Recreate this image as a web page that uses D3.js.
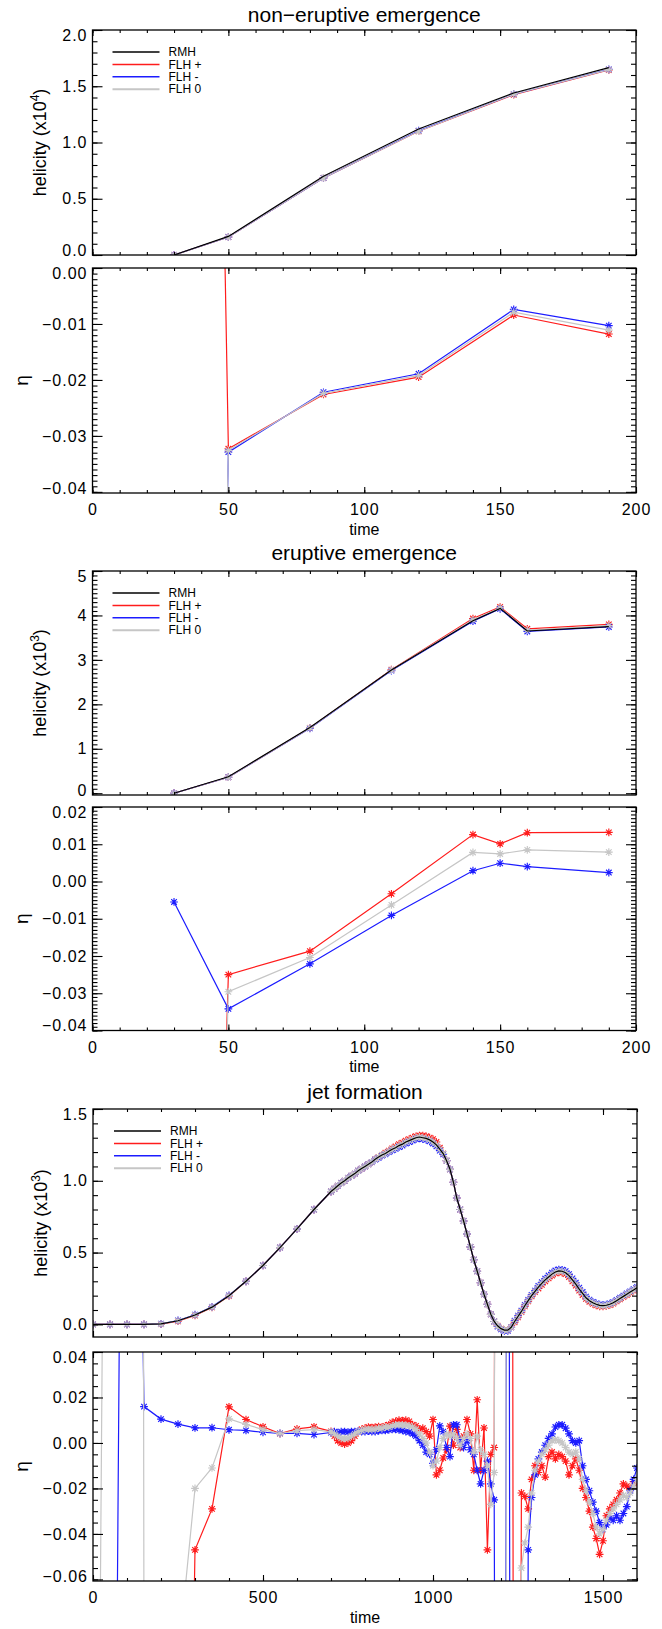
<!DOCTYPE html>
<html><head><meta charset="utf-8">
<script src="https://cdn.jsdelivr.net/npm/d3@7"></script>
<style>
body{margin:0;background:#fff}
text{font-family:"Liberation Sans",Arial,Helvetica,sans-serif;fill:#000}
</style>
</head><body>
<svg id="c" width="662" height="1629"></svg>
<script>
// ---------------- DATA ----------------
const legendNames = ["RMH", "FLH +", "FLH -", "FLH 0"];

// non-eruptive emergence
const neTime = [30, 50, 85, 120, 155, 190];
const neHelRMH   = [0, 0.165, 0.70, 1.12, 1.44, 1.665];
const neHelPlus  = [0, 0.16, 0.685, 1.10, 1.425, 1.645];
const neHelMinus = [0, 0.16, 0.685, 1.105, 1.43, 1.65];
const neHelZero  = [0, 0.16, 0.685, 1.10, 1.43, 1.648];
const neEtaPlus  = [0.5, -0.0323, -0.0226, -0.0195, -0.0084, -0.0118];
const neEtaMinus = [-0.5, -0.0329, -0.0222, -0.0189, -0.0074, -0.0103];
const neEtaZero  = [-0.5, -0.0326, -0.0224, -0.0192, -0.0079, -0.0111];

// eruptive emergence
const erTime = [30, 50, 80, 110, 140, 150, 160, 190];
const erHelRMH   = [0, 0.37, 1.48, 2.77, 3.88, 4.16, 3.65, 3.75];
const erHelPlus  = [0, 0.36, 1.47, 2.78, 3.93, 4.19, 3.70, 3.80];
const erHelMinus = [0, 0.36, 1.46, 2.76, 3.87, 4.15, 3.64, 3.74];
const erHelZero  = [0, 0.36, 1.47, 2.77, 3.90, 4.17, 3.67, 3.77];
const erEtaPlus  = [-0.5, -0.025, -0.0187, -0.0033, 0.0126, 0.0101, 0.0131, 0.0132];
const erEtaMinus = [-0.0055, -0.0342, -0.0221, -0.0091, 0.0029, 0.0049, 0.0040, 0.0024];
const erEtaZero  = [-0.5, -0.0296, -0.0204, -0.0063, 0.0078, 0.0074, 0.0085, 0.0079];

// jet formation
const jetTime = [0,50,100,150,200,250,300,350,400,450,500,550,600,650,700,
 710,720,730,740,750,760,770,780,790,800,
 810,820,830,840,850,860,870,880,890,900,
 910,920,930,940,950,960,970,980,990,1000,
 1010,1020,1030,1040,1050,1060,1070,1080,1090,1100,
 1110,1120,1130,1140,1150,1160,1170,1180,1190,1200,
 1210,1220,1230,1240,1250,1260,1270,1280,1290,1300,
 1310,1320,1330,1340,1350,1360,1370,1380,1390,1400,
 1410,1420,1430,1440,1450,1460,1470,1480,1490,1500,
 1510,1520,1530,1540,1550,1560,1570,1580,1590,1600];

const jetHelRMH = [0,0,0,0,0.003,0.025,0.065,0.12,0.2,0.3,0.41,0.535,0.665,0.8,0.925,
 0.945,0.965,0.985,1.0,1.02,1.035,1.05,1.07,1.085,1.1,
 1.115,1.13,1.15,1.165,1.18,1.19,1.205,1.22,1.23,1.245,
 1.255,1.27,1.28,1.29,1.3,1.305,1.3,1.295,1.285,1.27,
 1.25,1.22,1.19,1.14,1.08,0.99,0.88,0.8,0.72,0.63,
 0.54,0.45,0.37,0.29,0.21,0.14,0.07,0.02,-0.01,-0.03,
 -0.04,-0.04,-0.02,0.02,0.055,0.09,0.13,0.165,0.2,0.23,
 0.26,0.285,0.31,0.33,0.35,0.365,0.372,0.37,0.36,0.34,
 0.31,0.28,0.245,0.215,0.185,0.165,0.15,0.14,0.132,0.13,
 0.133,0.14,0.15,0.165,0.18,0.195,0.21,0.225,0.24,0.255];
const jetHelPlus = [0,0,0,0,0.002,0.022,0.062,0.118,0.198,0.3,0.41,0.535,0.665,0.8,0.925,
 0.945,0.965,0.985,1.0,1.02,1.035,1.05,1.07,1.085,1.1,
 1.115,1.13,1.15,1.165,1.18,1.195,1.21,1.225,1.24,1.255,
 1.265,1.28,1.29,1.3,1.31,1.315,1.315,1.31,1.3,1.29,
 1.27,1.23,1.19,1.14,1.08,0.99,0.88,0.8,0.72,0.63,
 0.54,0.45,0.37,0.29,0.21,0.14,0.07,0.02,-0.01,-0.03,
 -0.04,-0.04,-0.02,0.015,0.05,0.085,0.125,0.16,0.195,0.225,
 0.25,0.275,0.3,0.32,0.34,0.355,0.362,0.36,0.35,0.33,
 0.3,0.27,0.235,0.205,0.178,0.158,0.143,0.133,0.126,0.125,
 0.128,0.135,0.145,0.16,0.175,0.19,0.205,0.22,0.235,0.25];
const jetHelMinus = [0,0,0,0,0.004,0.027,0.067,0.122,0.202,0.3,0.41,0.535,0.665,0.8,0.925,
 0.945,0.965,0.985,1.0,1.02,1.035,1.05,1.07,1.085,1.1,
 1.115,1.13,1.148,1.16,1.175,1.185,1.2,1.212,1.222,1.235,
 1.245,1.26,1.27,1.28,1.29,1.295,1.29,1.285,1.275,1.26,
 1.24,1.21,1.185,1.14,1.08,0.99,0.88,0.8,0.72,0.63,
 0.54,0.45,0.37,0.29,0.21,0.14,0.07,0.02,-0.015,-0.035,
 -0.045,-0.045,-0.02,0.025,0.06,0.095,0.135,0.17,0.205,0.235,
 0.268,0.293,0.318,0.34,0.36,0.375,0.382,0.38,0.37,0.35,
 0.32,0.29,0.255,0.225,0.193,0.172,0.156,0.146,0.138,0.136,
 0.138,0.145,0.155,0.17,0.185,0.2,0.215,0.23,0.245,0.26];
const jetHelZero = jetHelRMH; // indistinguishable from RMH in the figure

const jetEtaPlus = [-0.5,-0.5,-0.5,-0.5,-0.5,-0.5,-0.047,-0.029,0.0159,0.0103,0.0071,0.0041,0.0062,0.0071,0.0051,
 0.003,0.001,0.0,-0.0005,0.0,0.001,0.003,0.005,0.006,0.0065,
 0.007,0.0068,0.007,0.0072,0.007,0.0075,0.008,0.009,0.0095,0.01,
 0.0098,0.01,0.0095,0.008,0.0075,0.006,0.0065,0.005,0.003,0.0103,
 -0.014,-0.012,-0.0066,-0.003,0.0074,-0.001,0.006,-0.002,0.003,0.0103,
 0.004,-0.012,0.019,-0.012,0.0066,-0.047,-0.005,-0.002,0.5,0.5,
 0.5,0.5,0.5,-0.5,-0.5,-0.022,-0.0235,-0.029,-0.016,-0.01,
 -0.013,-0.01,-0.015,-0.006,-0.004,-0.007,-0.005,-0.006,-0.008,-0.014,
 -0.01,-0.007,-0.012,-0.02,-0.024,-0.03,-0.037,-0.042,-0.049,-0.043,
 -0.032,-0.029,-0.027,-0.025,-0.022,-0.018,-0.019,-0.02,-0.017,-0.018];
const jetEtaMinus = [-0.5,-0.5,0.5,0.016,0.0105,0.0083,0.0066,0.0067,0.0058,0.0055,0.0047,0.0042,0.0042,0.0037,0.0046,
 0.005,0.0045,0.005,0.005,0.0048,0.005,0.005,0.0052,0.005,0.005,
 0.0052,0.005,0.005,0.0053,0.0055,0.0055,0.0058,0.006,0.006,0.0058,
 0.0055,0.005,0.0048,0.004,0.003,0.001,-0.001,-0.004,-0.005,-0.009,
 -0.003,0.0075,0.005,-0.002,-0.006,0.008,0.008,0.001,-0.002,0.001,
 -0.003,-0.005,-0.012,-0.018,-0.012,-0.008,-0.018,-0.025,-0.5,-0.5,
 -0.5,0.5,-0.5,-0.5,-0.5,-0.5,-0.5,-0.047,-0.024,-0.014,
 -0.007,-0.004,-0.001,0.002,0.004,0.007,0.008,0.008,0.0065,0.004,
 0.001,0.0,0.001,-0.01,-0.016,-0.021,-0.026,-0.03,-0.035,-0.038,
 -0.036,-0.033,-0.034,-0.032,-0.034,-0.031,-0.028,-0.021,-0.016,-0.011];
const jetEtaZero = [-0.5,0.5,5,-0.1,-0.2,-0.096,-0.02,-0.011,0.0106,0.0081,0.0059,0.0041,0.0054,0.0059,0.0049,
 0.004,0.003,0.002,0.002,0.002,0.003,0.004,0.005,0.0055,0.006,
 0.006,0.006,0.006,0.0065,0.0065,0.007,0.007,0.0075,0.008,0.008,
 0.008,0.0078,0.0075,0.007,0.006,0.004,0.002,0.0,-0.004,-0.01,
 -0.008,-0.002,0.002,0.004,0.003,0.004,0.002,-0.001,0.002,0.004,
 0.002,-0.004,0.003,-0.003,-0.005,-0.01,-0.027,-0.013,0.5,0.5,
 0.5,-0.5,-0.5,-0.5,-0.5,-0.055,-0.044,-0.037,-0.022,-0.012,
 -0.008,-0.005,-0.003,-0.001,0.001,0.0015,0.001,0.0,-0.002,-0.004,
 -0.005,-0.004,-0.007,-0.016,-0.021,-0.026,-0.031,-0.037,-0.04,-0.038,
 -0.034,-0.031,-0.029,-0.027,-0.025,-0.023,-0.024,-0.022,-0.019,-0.016];

// tick labels
const timeTicksShort = [0, 50, 100, 150, 200];
const timeTicksJet = [0, 500, 1000, 1500];
const neHelTicks = [0.0, 0.5, 1.0, 1.5, 2.0];
const neEtaTicks = [-0.04, -0.03, -0.02, -0.01, 0.00];
const erHelTicks = [0, 1, 2, 3, 4, 5];
const erEtaTicks = [-0.04, -0.03, -0.02, -0.01, 0.00, 0.01, 0.02];
const jetHelTicks = [0.0, 0.5, 1.0, 1.5];
const jetEtaTicks = [-0.06, -0.04, -0.02, 0.00, 0.02, 0.04];

const titles = ["non\u2212eruptive emergence", "eruptive emergence", "jet formation"];

// ---------------- DRAWING ----------------
const COL = {rmh:"#000000", plus:"#ff1c1c", minus:"#1c1cff", zero:"#c6c6c6"};
const svg = d3.select("#c");
const defs = svg.append("defs");
const FONT = '"Liberation Sans",Arial,sans-serif';

const asterisk = {draw(ctx, size){
  const r = Math.sqrt(size)/2, a = r*0.72;
  ctx.moveTo(-r,0); ctx.lineTo(r,0);
  ctx.moveTo(0,-r); ctx.lineTo(0,r);
  ctx.moveTo(-a,-a); ctx.lineTo(a,a);
  ctx.moveTo(-a,a); ctx.lineTo(a,-a);
}};
const symPath = d3.symbol().type(asterisk).size(60)();

function minorVals(dom, step){
  const lo = Math.ceil(dom[0]/step - 1e-9), hi = Math.floor(dom[1]/step + 1e-9);
  return d3.range(lo, hi+1).map(k => +(k*step).toFixed(6));
}

let clipN = 0;
function panel(cfg){
  const x = d3.scaleLinear().domain(cfg.xDomain).range([cfg.x0, cfg.x1]);
  const y = d3.scaleLinear().domain(cfg.yDomain).range([cfg.bottom, cfg.top]);
  const g = svg.append("g");
  const h = cfg.bottom - cfg.top, w = cfg.x1 - cfg.x0;
  const yMaj = 10, yMin = 5, xMaj = 6, xMin = 3;

  const cid = "clip" + (clipN++);
  defs.append("clipPath").attr("id", cid).append("rect")
    .attr("x", cfg.x0).attr("y", cfg.top).attr("width", w).attr("height", h);
  const dg = g.append("g").attr("clip-path", `url(#${cid})`);
  const line = d3.line().x(d => x(d[0])).y(d => y(d[1]));
  cfg.series.forEach(s => {
    const pts = cfg.time.map((t,i) => [t, s.values[i]]);
    dg.append("path").attr("d", line(pts)).attr("fill","none")
      .attr("stroke", s.color).attr("stroke-width", s.width || 1.2);
    if (s.markers) {
      dg.selectAll(null).data(pts).enter().append("path")
        .attr("d", symPath)
        .attr("transform", d => `translate(${x(d[0])},${y(d[1])})`)
        .attr("fill","none").attr("stroke", s.color).attr("stroke-width", 1.15);
    }
  });

  const ax = g.append("g").attr("class","axes");
  const fmt = d3.format(cfg.yFmt);
  function addAxis(gen, tx, ty, vals, len, labels){
    const a = gen.tickValues(vals).tickSizeInner(-len).tickSizeOuter(0).tickPadding(5)
      .tickFormat(labels ? labels : () => "");
    const gg = ax.append("g").attr("transform", `translate(${tx},${ty})`).call(a);
    gg.select(".domain").remove();
    gg.selectAll("line").attr("stroke","#000").attr("stroke-width",1.1);
    gg.selectAll("text").attr("font-size", 16).attr("fill","#000")
      .attr("letter-spacing", 1).style("font-family", FONT);
    return gg;
  }
  const yMinors = minorVals(cfg.yDomain, cfg.yMinor);
  const xMinors = minorVals(cfg.xDomain, cfg.xMinor);
  addAxis(d3.axisLeft(y), cfg.x0, 0, yMinors, yMin, null);
  addAxis(d3.axisRight(y), cfg.x1, 0, yMinors, yMin, null);
  const yl = addAxis(d3.axisLeft(y), cfg.x0, 0, cfg.yTicks, yMaj, fmt);
  // keep edge labels inside the frame, as in the original
  yl.selectAll(".tick").each(function(v){
    const ty = y(v);
    const shift = Math.min(Math.max(ty, cfg.top + 5), cfg.bottom - 5) - ty;
    d3.select(this).select("text").attr("y", shift);
  });
  addAxis(d3.axisRight(y), cfg.x1, 0, cfg.yTicks, yMaj, null);
  addAxis(d3.axisBottom(x), 0, cfg.bottom, xMinors, xMin, null);
  addAxis(d3.axisTop(x), 0, cfg.top, xMinors, xMin, null);
  const xb = addAxis(d3.axisBottom(x), 0, cfg.bottom, cfg.xTicks, xMaj, cfg.xLabels ? d3.format("d") : null);
  xb.selectAll("text").attr("y", 11);
  addAxis(d3.axisTop(x), 0, cfg.top, cfg.xTicks, xMaj, null);

  g.append("rect").attr("x", cfg.x0).attr("y", cfg.top).attr("width", w).attr("height", h)
    .attr("fill","none").attr("stroke","#000").attr("stroke-width",1.3);

  const lab = g.append("text")
    .attr("transform", `translate(${cfg.yLabelX},${(cfg.top+cfg.bottom)/2}) rotate(-90)`)
    .attr("text-anchor","middle").attr("dy","0.35em");
  if (cfg.yLabel === "eta") {
    lab.attr("font-size", 19).text("\u03b7");
  } else {
    lab.attr("font-size", 18);
    lab.append("tspan").text("helicity (x10");
    lab.append("tspan").attr("dy", -7).attr("font-size", 12).text(cfg.yLabel);
    lab.append("tspan").attr("dy", 7).text(")");
  }
  if (cfg.xLabels) {
    g.append("text").attr("x", (cfg.x0+cfg.x1)/2).attr("y", cfg.bottom + 36)
      .attr("text-anchor","middle").attr("dy","0.35em").attr("font-size", 16).text("time");
  }
  if (cfg.legend) {
    const cols = [COL.rmh, COL.plus, COL.minus, COL.zero];
    legendNames.forEach((n,i) => {
      const yy = cfg.top + 22 + i*12.4;
      g.append("line").attr("x1", cfg.x0+cfg.legendDx).attr("x2", cfg.x0+cfg.legendDx+47)
        .attr("y1", yy).attr("y2", yy).attr("stroke", cols[i]).attr("stroke-width", i===3 ? 2 : 1.5);
      g.append("text").attr("x", cfg.x0+cfg.legendDx+56).attr("y", yy).attr("dy","0.35em")
        .attr("font-size", 12).text(n);
    });
  }
}

function helSeries(rmh, plus, minus, zero){
  return [
    {values: plus, color: COL.plus, markers: true},
    {values: minus, color: COL.minus, markers: true},
    {values: zero, color: COL.zero, markers: true},
    {values: rmh, color: COL.rmh, markers: false}
  ];
}
function etaSeries(plus, minus, zero){
  return [
    {values: plus, color: COL.plus, markers: true},
    {values: minus, color: COL.minus, markers: true},
    {values: zero, color: COL.zero, markers: true}
  ];
}

const LA = {x0: 92.5, x1: 636};
const LC = {x0: 93, x1: 637};

[[titles[0], LA, 15], [titles[1], LA, 553], [titles[2], LC, 1092]].forEach(([t, L, yy]) => {
  svg.append("text").attr("x", (L.x0+L.x1)/2).attr("y", yy).attr("dy","0.35em")
    .attr("text-anchor","middle").attr("font-size", 21).text(t);
});

panel({...LA, top:30, bottom:255, xDomain:[0,200], yDomain:[0,2.0], time: neTime,
  xTicks: timeTicksShort, xMinor:10, yTicks: neHelTicks, yMinor:0.1, yFmt:".1f",
  xLabels:false, yLabel:"4", yLabelX:40, legend:true, legendDx:20,
  series: helSeries(neHelRMH, neHelPlus, neHelMinus, neHelZero)});
panel({...LA, top:268, bottom:493, xDomain:[0,200], yDomain:[-0.0402,0], time: neTime,
  xTicks: timeTicksShort, xMinor:10, yTicks: neEtaTicks, yMinor:0.001, yFmt:".2f",
  xLabels:true, yLabel:"eta", yLabelX:21, legend:false,
  series: etaSeries(neEtaPlus, neEtaMinus, neEtaZero)});
panel({...LA, top:571, bottom:795, xDomain:[0,200], yDomain:[-0.04,5], time: erTime,
  xTicks: timeTicksShort, xMinor:10, yTicks: erHelTicks, yMinor:0.1, yFmt:"d",
  xLabels:false, yLabel:"3", yLabelX:40, legend:true, legendDx:20,
  series: helSeries(erHelRMH, erHelPlus, erHelMinus, erHelZero)});
panel({...LA, top:807, bottom:1030.5, xDomain:[0,200], yDomain:[-0.04,0.02], time: erTime,
  xTicks: timeTicksShort, xMinor:10, yTicks: erEtaTicks, yMinor:0.001, yFmt:".2f",
  xLabels:true, yLabel:"eta", yLabelX:21, legend:false,
  series: etaSeries(erEtaPlus, erEtaMinus, erEtaZero)});
panel({...LC, top:1109, bottom:1337, xDomain:[0,1600], yDomain:[-0.088,1.5], time: jetTime,
  xTicks: timeTicksJet, xMinor:100, yTicks: jetHelTicks, yMinor:0.1, yFmt:".1f",
  xLabels:false, yLabel:"3", yLabelX:41, legend:true, legendDx:21,
  series: helSeries(jetHelRMH, jetHelPlus, jetHelMinus, jetHelZero)});
panel({...LC, top:1352, bottom:1581, xDomain:[0,1600], yDomain:[-0.0607,0.04], time: jetTime,
  xTicks: timeTicksJet, xMinor:100, yTicks: jetEtaTicks, yMinor:0.005, yFmt:".2f",
  xLabels:true, yLabel:"eta", yLabelX:21, legend:false,
  series: etaSeries(jetEtaPlus, jetEtaMinus, jetEtaZero)});
</script>
</body></html>
